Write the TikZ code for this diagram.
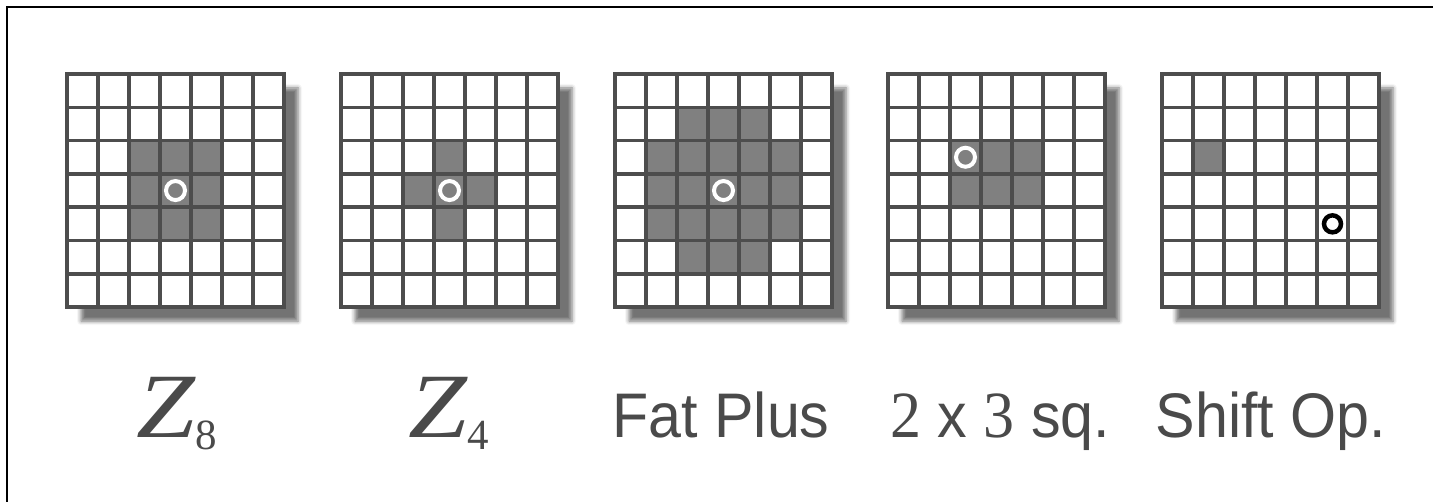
\documentclass[tikz,border=0pt]{standalone}
\usepackage{fontspec}
\setmainfont{Liberation Sans}
\newfontfamily\kserif{Liberation Serif}
\usetikzlibrary{shadows.blur}
\definecolor{kgrid}{HTML}{4D4D4D}
\definecolor{kcell}{HTML}{808080}
\definecolor{ktext}{HTML}{4A4A4A}
\tikzset{%
  kpanel/.style={%
    fill=white,
    blur shadow={shadow xshift=14pt,shadow yshift=-14pt,shadow blur radius=4pt,shadow opacity=55}
  },
  kgridline/.style={draw=kgrid,line width=3.5pt},
  kon/.style={fill=kcell},
  korigin/.style={draw=white,line width=4pt},
  koriginblack/.style={draw=black,line width=4.5pt},
  klabel/.style={anchor=base,text=ktext,inner sep=0pt,font=\fontsize{63}{63}\selectfont}
}

\begin{document}
\begin{tikzpicture}[x=1pt,y=-1pt]
  \useasboundingbox (0,0) rectangle (1433,502);
  \draw[black,line width=2.5pt] (7,502) -- (7,7) -- (1433,7);

  % Z8
  \begin{scope}[xshift=67pt,yshift=-74pt,x=31pt,y=-33.3pt]
    \path[kpanel] (0,0) rectangle (7,7);
    \foreach \c/\r in {2/2,3/2,4/2,2/3,3/3,4/3,2/4,3/4,4/4}
      \fill[kon] (\c,\r) rectangle ++(1,1);
    \foreach \i in {1,...,6} {
      \draw[kgridline] (\i,0) -- (\i,7);
      \draw[kgridline] (0,\i) -- (7,\i);
    }
    \draw[kgridline] (0,0) rectangle (7,7);
    \draw[korigin] (3.5,3.5) circle[radius=9.5pt];
  \end{scope}

  % Z4
  \begin{scope}[xshift=341pt,yshift=-74pt,x=31pt,y=-33.3pt]
    \path[kpanel] (0,0) rectangle (7,7);
    \foreach \c/\r in {3/2,2/3,3/3,4/3,3/4}
      \fill[kon] (\c,\r) rectangle ++(1,1);
    \foreach \i in {1,...,6} {
      \draw[kgridline] (\i,0) -- (\i,7);
      \draw[kgridline] (0,\i) -- (7,\i);
    }
    \draw[kgridline] (0,0) rectangle (7,7);
    \draw[korigin] (3.5,3.5) circle[radius=9.5pt];
  \end{scope}

  % fat plus
  \begin{scope}[xshift=615pt,yshift=-74pt,x=31pt,y=-33.3pt]
    \path[kpanel] (0,0) rectangle (7,7);
    \fill[kon] (2,1) rectangle (5,6);
    \fill[kon] (1,2) rectangle (6,5);
    \foreach \i in {1,...,6} {
      \draw[kgridline] (\i,0) -- (\i,7);
      \draw[kgridline] (0,\i) -- (7,\i);
    }
    \draw[kgridline] (0,0) rectangle (7,7);
    \draw[korigin] (3.5,3.5) circle[radius=9.5pt];
  \end{scope}

  % 2 x 3 square
  \begin{scope}[xshift=888pt,yshift=-74pt,x=31pt,y=-33.3pt]
    \path[kpanel] (0,0) rectangle (7,7);
    \fill[kon] (2,2) rectangle (5,4);
    \foreach \i in {1,...,6} {
      \draw[kgridline] (\i,0) -- (\i,7);
      \draw[kgridline] (0,\i) -- (7,\i);
    }
    \draw[kgridline] (0,0) rectangle (7,7);
    \draw[korigin] (2.5,2.5) circle[radius=9.5pt];
  \end{scope}

  % shift operator
  \begin{scope}[xshift=1162pt,yshift=-74pt,x=31pt,y=-33.3pt]
    \path[kpanel] (0,0) rectangle (7,7);
    \fill[kon] (1,2) rectangle ++(1,1);
    \foreach \i in {1,...,6} {
      \draw[kgridline] (\i,0) -- (\i,7);
      \draw[kgridline] (0,\i) -- (7,\i);
    }
    \draw[kgridline] (0,0) rectangle (7,7);
    \draw[koriginblack] (5.5,4.5) circle[radius=8.5pt];
  \end{scope}

  % labels
  \node[klabel] (zeight) at (177,438) {\kserif\fontsize{92}{92}\selectfont\scalebox{1.15}[1]{\itshape Z}\raisebox{-12pt}{\fontsize{43}{43}\selectfont 8}};
  \node[klabel] (zfour) at (449,438) {\kserif\fontsize{92}{92}\selectfont\scalebox{1.15}[1]{\itshape Z}\raisebox{-12pt}{\fontsize{43}{43}\selectfont 4}};
  \node[klabel] (fatplus) at (721,438) {\scalebox{0.94}[1]{Fat Plus}};
  \node[klabel] (twobythree) at (1000,438) {\scalebox{0.94}[1]{{\kserif\fontsize{66}{66}\selectfont 2} x {\kserif\fontsize{66}{66}\selectfont 3} sq.}};
  \node[klabel] (shiftop) at (1271,438) {\scalebox{0.94}[1]{Shift Op.}};
\end{tikzpicture}
\end{document}
